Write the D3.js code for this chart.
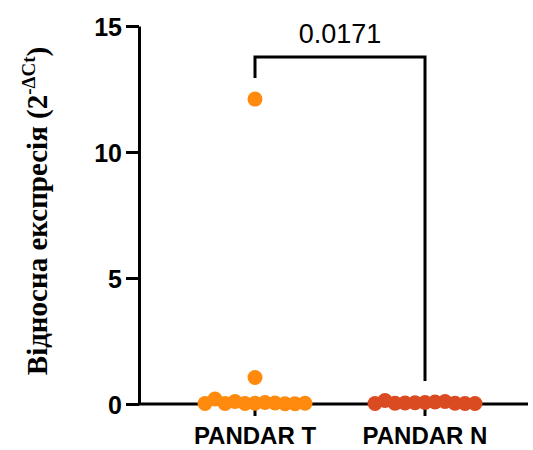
<!DOCTYPE html>
<html>
<head>
<meta charset="utf-8">
<script src="https://cdn.jsdelivr.net/npm/d3@7"></script>
<style>
body { margin: 0; background: #fff; }
svg text { font-family: Arial, "Liberation Sans", sans-serif; }
</style>
</head>
<body>
<div id="plot"></div>
<script>
var groups = ["PANDAR T", "PANDAR N"];
var colors = ["#FF8A0E", "#DB4B22"];
var valuesT = [12.1, 1.05, 0.03, 0.02, 0.06, 0.1, 0.04, 0.02, 0.01, 0.2, 0.01, 0.02, 0.03];
var valuesN = [0.06, 0.05, 0.08, 0.04, 0.1, 0.03, 0.03, 0.14, 0.02, 0.02, 0.02];
var yTicks = [0, 5, 10, 15];
var pLabel = "0.0171";

var width = 533, height = 450;
var margin = { top: 26, right: 5, bottom: 46, left: 139 };

var svg = d3.select("#plot").append("svg")
  .attr("width", width).attr("height", height);

var y = d3.scaleLinear().domain([0, 15]).range([height - margin.bottom, margin.top]);
var x = d3.scalePoint().domain(groups).range([255, 425]);

// y axis
var yAxis = svg.append("g")
  .attr("transform", "translate(" + margin.left + ",0)")
  .call(d3.axisLeft(y).tickValues(yTicks).tickSize(13).tickPadding(4).tickSizeOuter(0));
yAxis.select(".domain").attr("stroke", "#000").attr("stroke-width", 3);
yAxis.selectAll(".tick line").attr("stroke-width", 3);
yAxis.selectAll(".tick text").attr("font-size", 25).attr("font-weight", "bold")
  .attr("fill", "#000").attr("dy", "0.36em");

// x axis
var xAxis = svg.append("g")
  .attr("transform", "translate(0," + y(0) + ")");
xAxis.append("line").attr("x1", margin.left).attr("x2", width - margin.right)
  .attr("stroke", "#000").attr("stroke-width", 3);
xAxis.selectAll(".tk").data(groups).enter().append("line")
  .attr("x1", function(d) { return x(d); }).attr("x2", function(d) { return x(d); })
  .attr("y1", 0).attr("y2", 12).attr("stroke", "#000").attr("stroke-width", 3);
xAxis.selectAll(".lbl").data(groups).enter().append("text")
  .attr("x", function(d) { return x(d); }).attr("y", 40)
  .attr("text-anchor", "middle").attr("font-size", 24).attr("font-weight", "bold")
  .text(function(d) { return d; });

// simple beeswarm, collision distance in px
function swarm(vals, cx) {
  var placed = [], d = 10;
  vals.forEach(function(v) {
    var py = y(v);
    for (var k = 0; k < 100; k++) {
      var off = (k % 2 === 0 ? 1 : -1) * Math.ceil(k / 2) * d;
      var px = cx + off;
      var ok = placed.every(function(p) {
        return Math.hypot(p.x - px, p.y - py) >= d - 0.01;
      });
      if (ok) { placed.push({ x: px, y: py }); break; }
    }
  });
  return placed;
}

[valuesT, valuesN].forEach(function(vals, i) {
  var pts = swarm(vals, x(groups[i]));
  svg.append("g").selectAll("circle").data(pts).enter().append("circle")
    .attr("cx", function(d) { return d.x; })
    .attr("cy", function(d) { return d.y; })
    .attr("r", 7.5).attr("fill", colors[i]);
});

// significance bracket
var by = 57;
svg.append("path")
  .attr("d", "M" + x(groups[0]) + "," + 78 + "V" + by + "H" + x(groups[1]) + "V" + 381)
  .attr("fill", "none").attr("stroke", "#000").attr("stroke-width", 3);
svg.append("text")
  .attr("x", (x(groups[0]) + x(groups[1])) / 2).attr("y", 43)
  .attr("text-anchor", "middle").attr("font-size", 27).text(pLabel);

// y title
var title = svg.append("text")
  .attr("transform", "translate(47," + 211 + ") rotate(-90)")
  .attr("text-anchor", "middle")
  .style("font-family", "'Liberation Serif', 'Times New Roman', serif")
  .attr("font-size", 29).attr("font-weight", "bold");
title.append("tspan").text("Відносна експресія (2");
title.append("tspan").attr("font-size", 19).attr("dy", -12).text("-ΔCt");
title.append("tspan").attr("dy", 12).text(")");
</script>
</body>
</html>
